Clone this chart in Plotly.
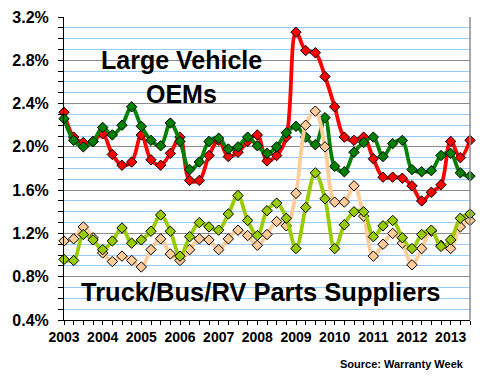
import plotly.graph_objects as go

years = list(range(2003, 2014))
quarters = [f"{y}Q{q}" for y in years for q in range(1, 5)][:43]  # 2003Q1 .. 2013Q3
tick_labels = [str(y) for y in years]

# Large Vehicle OEMs (red) - claims rate, %
oem_claims = [2.32, 2.09, 2.04, 2.05, 2.12, 1.93, 1.83, 1.86, 2.11, 1.88,
              1.83, 1.94, 2.09, 1.69, 1.69, 1.92, 2.06, 1.91, 1.95, 2.05,
              2.11, 1.87, 1.92, 2.09, 3.06, 2.89, 2.87, 2.65, 2.37, 2.09,
              2.06, 2.09, 1.89, 1.72, 1.72, 1.71, 1.64, 1.50, 1.58, 1.65,
              2.05, 1.90, 2.06]
# Large Vehicle OEMs (dark green) - accrual rate, %
oem_accruals = [2.26, 2.06, 2.00, 2.05, 2.18, 2.11, 2.20, 2.37, 2.19, 2.06,
                2.01, 2.22, 2.05, 1.79, 1.86, 2.05, 2.08, 1.98, 2.00, 2.09,
                2.01, 1.94, 2.00, 2.13, 2.19, 2.09, 2.02, 2.27, 1.82, 1.77,
                1.95, 2.04, 2.09, 1.91, 2.03, 2.06, 1.79, 1.77, 1.78, 1.92,
                1.94, 1.76, 1.73]
# Truck/Bus/RV Parts Suppliers (peach) - claims rate, %
sup_claims = [1.13, 1.15, 1.26, 1.16, 1.02, 0.94, 0.99, 0.95, 0.89, 1.05,
              1.15, 1.01, 0.95, 1.05, 1.15, 1.14, 1.05, 1.15, 1.23, 1.18,
              1.09, 1.19, 1.31, 1.27, 1.57, 2.20, 2.33, 2.00, 1.49, 1.49,
              1.64, 1.36, 0.99, 1.10, 1.20, 1.11, 0.91, 1.06, 1.22, 1.09,
              1.06, 1.26, 1.32]
# Truck/Bus/RV Parts Suppliers (lime) - accrual rate, %
sup_accruals = [0.96, 0.95, 1.19, 1.14, 1.05, 1.13, 1.25, 1.11, 1.14, 1.22,
                1.37, 1.22, 0.99, 1.17, 1.30, 1.26, 1.23, 1.38, 1.55, 1.32,
                1.18, 1.41, 1.48, 1.34, 1.06, 1.44, 1.76, 1.52, 1.06, 1.28,
                1.40, 1.40, 1.17, 1.27, 1.32, 1.16, 1.06, 1.19, 1.23, 1.08,
                1.14, 1.34, 1.38]

x = [int(p[:4]) + (int(p[-1]) - 1) / 4 for p in quarters]

series = [
    ("OEM claims", oem_claims, "#FF0000"),
    ("OEM accruals", oem_accruals, "#008000"),
    ("Supplier claims", sup_claims, "#FFCC99"),
    ("Supplier accruals", sup_accruals, "#99CC00"),
]

fig = go.Figure()
for name, vals, col in series:
    fig.add_trace(go.Scatter(
        x=x, y=vals, name=name, mode="lines+markers",
        line=dict(color=col, width=3.8, shape="spline", smoothing=1.0),
        marker=dict(symbol="diamond", size=8, color=col,
                    line=dict(color="black", width=1)),
        showlegend=False, cliponaxis=False, hoverinfo="skip"))

font = "Liberation Sans, Arial, sans-serif"
ytickvals = [0.4, 0.8, 1.2, 1.6, 2.0, 2.4, 2.8, 3.2]

fig.update_layout(
    width=480, height=380,
    margin=dict(l=64, r=10, t=17, b=60),
    paper_bgcolor="white", plot_bgcolor="white",
    font=dict(family=font, color="black"),
    xaxis=dict(
        range=[2003, 2013.5], tickmode="array", tickvals=years,
        ticktext=[f"<b>{t}</b>" for t in tick_labels],
        tickfont=dict(size=14, family=font), showgrid=False, zeroline=False,
        showline=True, linecolor="black", linewidth=1,
        ticks="outside", ticklen=4, tickcolor="black",
        minor=dict(dtick=0.25, tick0=2003, ticks="outside", ticklen=4,
                   tickcolor="black", showgrid=False),
    ),
    yaxis=dict(
        range=[0.4, 3.2], tickmode="array", tickvals=ytickvals,
        ticktext=[f"<b>{v:.1f}%</b>" for v in ytickvals],
        tickfont=dict(size=16, family=font),
        showgrid=True, gridcolor="#8C8C8C", gridwidth=1,
        zeroline=False, showline=True, linecolor="black", linewidth=1,
        ticks="outside", ticklen=5, tickcolor="black", ticklabelstandoff=6,
        minor=dict(dtick=0.1, tick0=0.4, showgrid=True, gridcolor="#99CCFF",
                   gridwidth=1, ticks="outside", ticklen=5, tickcolor="black"),
    ),
    shapes=[
        dict(type="line", xref="paper", yref="paper", x0=1, x1=1, y0=0, y1=1,
             line=dict(color="#8C8C8C", width=1.5)),
    ],
)

fig.add_annotation(text="<b>Source: Warranty Week</b>", xref="paper", yref="paper",
                   x=0.99, y=0, xanchor="right", yanchor="middle", yshift=-44,
                   showarrow=False, font=dict(size=11, family=font))
fig.add_annotation(text="<b>Large Vehicle</b>", x=2006.05, y=2.80, xref="x", yref="y",
                   showarrow=False, font=dict(size=25, family=font))
fig.add_annotation(text="<b>OEMs</b>", x=2006.05, y=2.49, xref="x", yref="y",
                   showarrow=False, font=dict(size=25, family=font))
fig.add_annotation(text="<b>Truck/Bus/RV Parts Suppliers</b>", x=2008.1, y=0.66,
                   xref="x", yref="y", showarrow=False,
                   font=dict(size=25.5, family=font))

fig.write_html("out.html", config={"displayModeBar": False},
               post_script="document.body.style.margin='0';")
